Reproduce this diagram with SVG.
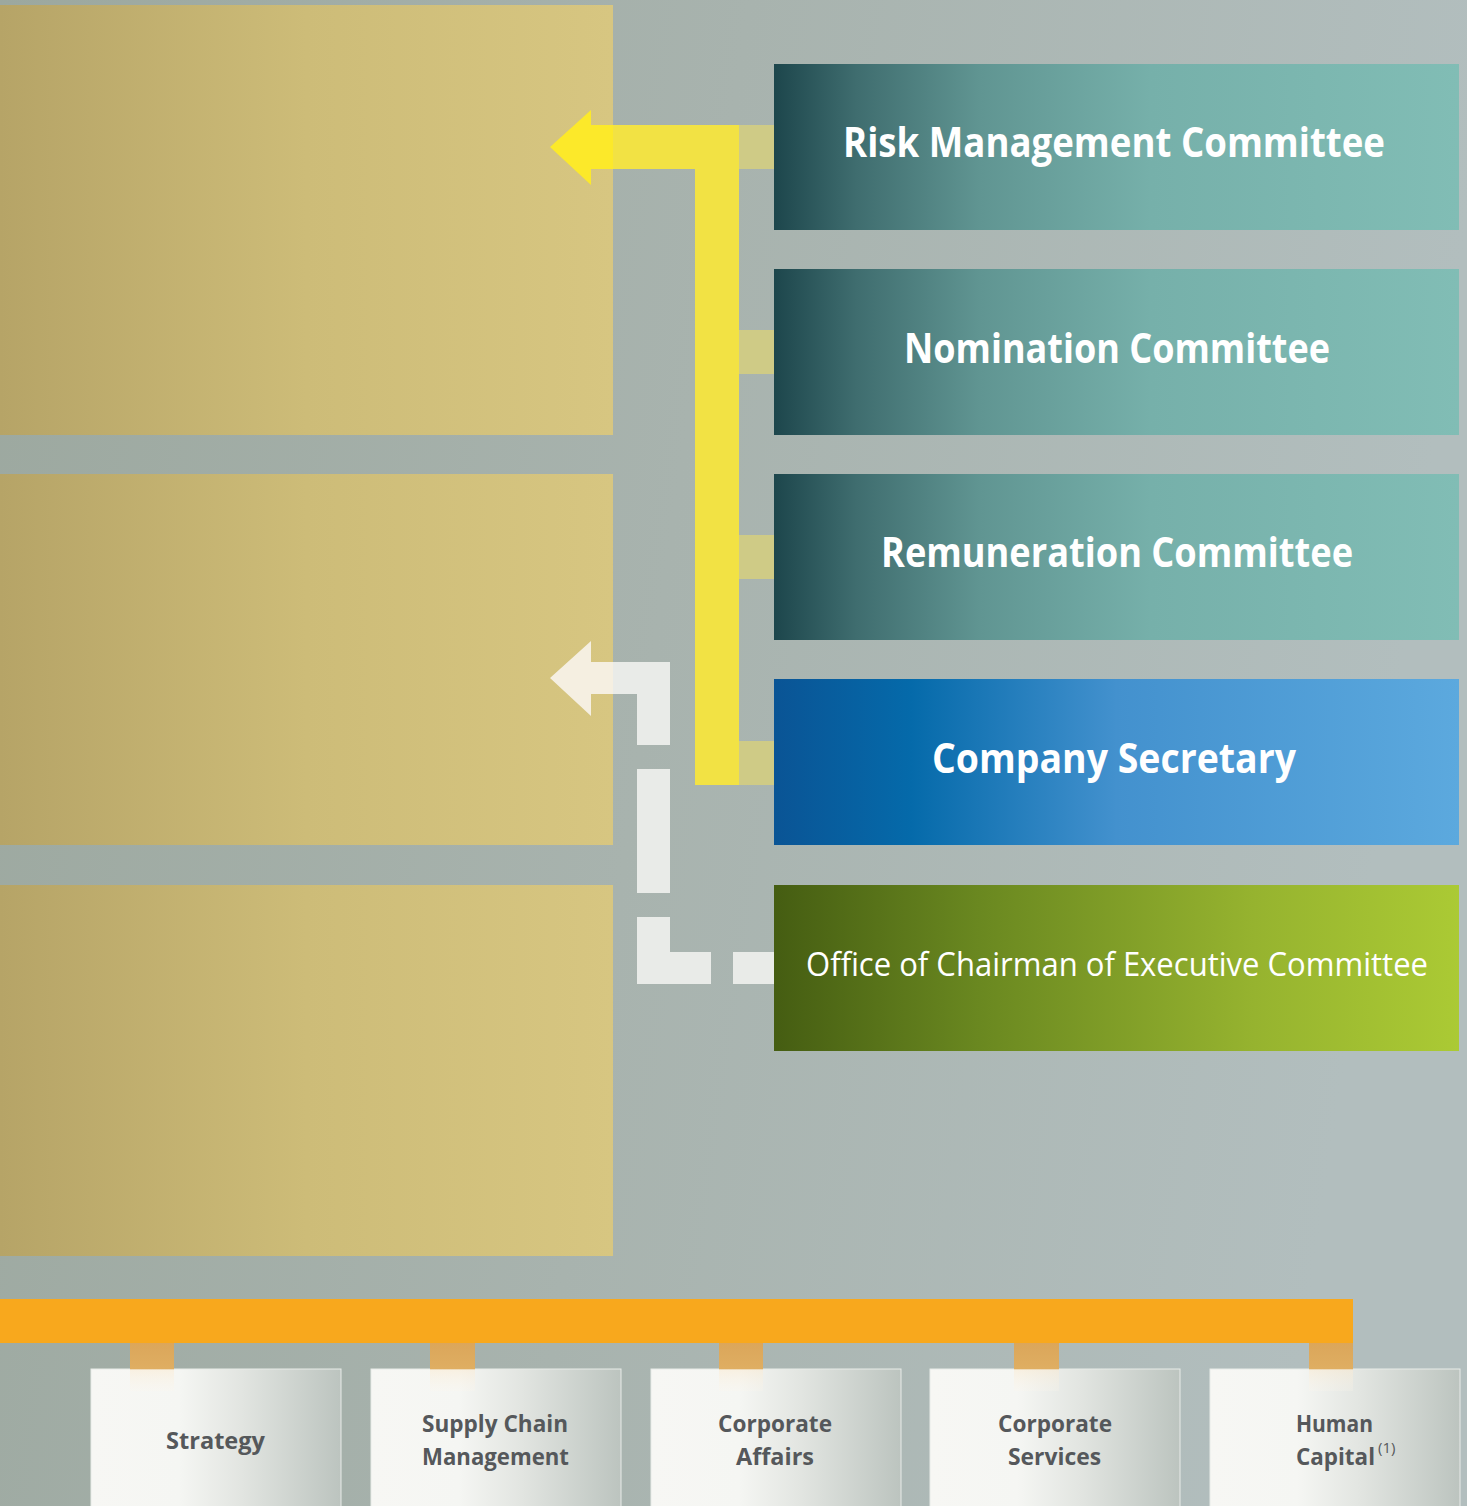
<svg xmlns="http://www.w3.org/2000/svg" width="1467" height="1506" viewBox="0 0 1467 1506">
  <defs>
    <linearGradient id="bg" x1="0" y1="0" x2="1" y2="0.15">
      <stop offset="0" stop-color="#9ca89f"/>
      <stop offset="0.5" stop-color="#a8b3ae"/>
      <stop offset="1" stop-color="#b2bebe"/>
    </linearGradient>
    <linearGradient id="gold" x1="0" y1="0" x2="1" y2="0">
      <stop offset="0" stop-color="#b6a467"/>
      <stop offset="0.5" stop-color="#cdbc78"/>
      <stop offset="1" stop-color="#d7c681"/>
    </linearGradient>
    <linearGradient id="teal" x1="0" y1="0" x2="1" y2="0">
      <stop offset="0" stop-color="#1d464c"/>
      <stop offset="0.12" stop-color="#3f6d6f"/>
      <stop offset="0.3" stop-color="#609592"/>
      <stop offset="0.55" stop-color="#76b0aa"/>
      <stop offset="1" stop-color="#81bdb5"/>
    </linearGradient>
    <linearGradient id="blue" x1="0" y1="0" x2="1" y2="0">
      <stop offset="0" stop-color="#0a5495"/>
      <stop offset="0.2" stop-color="#056aaa"/>
      <stop offset="0.5" stop-color="#4391ce"/>
      <stop offset="1" stop-color="#5ca9de"/>
    </linearGradient>
    <linearGradient id="green" x1="0" y1="0" x2="1" y2="0">
      <stop offset="0" stop-color="#455d12"/>
      <stop offset="0.3" stop-color="#6a8820"/>
      <stop offset="0.7" stop-color="#96b32f"/>
      <stop offset="1" stop-color="#abca34"/>
    </linearGradient>
    <linearGradient id="unit" x1="0" y1="0" x2="1" y2="0">
      <stop offset="0" stop-color="#f7f7f4"/>
      <stop offset="0.35" stop-color="#f5f6f3"/>
      <stop offset="0.6" stop-color="#e2e5e1"/>
      <stop offset="1" stop-color="#bcc4bf"/>
    </linearGradient>
    <linearGradient id="stub" x1="0" y1="0" x2="0" y2="1">
      <stop offset="0" stop-color="#dba65a"/>
      <stop offset="0.54" stop-color="#dfae62"/>
      <stop offset="0.56" stop-color="#fbead0" stop-opacity="0.5"/>
      <stop offset="1" stop-color="#fdf6ea" stop-opacity="0.2"/>
    </linearGradient>
    <style>
      .gold { fill: url(#gold); }
      .cmte { font-family: "Open Sans", "Noto Sans", sans-serif; font-weight: 700; font-size: 41px; fill: #ffffff; }
      .office { font-family: "Open Sans", "Noto Sans", sans-serif; font-weight: 400; font-size: 32px; fill: #ffffff; }
      .unit-box { fill: url(#unit); stroke: #e8ebe8; stroke-width: 1; }
      .unit-text { font-family: "Open Sans", "Noto Sans", sans-serif; font-weight: 700; font-size: 24px; fill: #55585b; }
      .sup { font-family: "Open Sans", "Noto Sans", sans-serif; font-weight: 400; font-size: 15px; fill: #55585b; }
      .tab { fill: #cfcb86; }
      .solid { fill: #f2e244; }
      .dash { fill: #e9ebe8; }
      .stub { fill: url(#stub); }
    </style>
  </defs>

  <!-- backdrop -->
  <rect x="0" y="0" width="1467" height="1506" fill="url(#bg)"/>

  <!-- board panels on the left -->
  <g id="panels">
    <rect class="gold" x="0" y="5" width="613" height="430"/>
    <rect class="gold" x="0" y="474" width="613" height="371"/>
    <rect class="gold" x="0" y="885" width="613" height="371"/>
  </g>

  <!-- business units -->
  <g id="strategy">
    <rect class="unit-box" x="91" y="1369" width="250" height="140"/>
    <text class="unit-text" x="166" y="1449" textLength="99" lengthAdjust="spacingAndGlyphs">Strategy</text>
  </g>
  <g id="supply-chain-management">
    <rect class="unit-box" x="371" y="1369" width="250" height="140"/>
    <text class="unit-text" x="422" y="1432" textLength="146" lengthAdjust="spacingAndGlyphs">Supply Chain</text>
    <text class="unit-text" x="422" y="1465" textLength="147" lengthAdjust="spacingAndGlyphs">Management</text>
  </g>
  <g id="corporate-affairs">
    <rect class="unit-box" x="651" y="1369" width="250" height="140"/>
    <text class="unit-text" x="718" y="1432" textLength="114" lengthAdjust="spacingAndGlyphs">Corporate</text>
    <text class="unit-text" x="736" y="1465" textLength="78" lengthAdjust="spacingAndGlyphs">Affairs</text>
  </g>
  <g id="corporate-services">
    <rect class="unit-box" x="930" y="1369" width="250" height="140"/>
    <text class="unit-text" x="998" y="1432" textLength="114" lengthAdjust="spacingAndGlyphs">Corporate</text>
    <text class="unit-text" x="1008" y="1465" textLength="93" lengthAdjust="spacingAndGlyphs">Services</text>
  </g>
  <g id="human-capital">
    <rect class="unit-box" x="1210" y="1369" width="250" height="140"/>
    <text class="unit-text" x="1296" y="1432" textLength="77" lengthAdjust="spacingAndGlyphs">Human</text>
    <text class="unit-text" x="1296" y="1465" textLength="79" lengthAdjust="spacingAndGlyphs">Capital</text>
    <text class="sup" x="1378" y="1453">(1)</text>
  </g>

  <!-- connectors -->
  <g id="connectors">
    <!-- tabs joining committees to the reporting line -->
    <rect class="tab" x="739" y="125" width="35" height="44"/>
    <rect class="tab" x="739" y="330" width="35" height="44"/>
    <rect class="tab" x="739" y="535" width="35" height="44"/>
    <rect class="tab" x="739" y="741" width="35" height="44"/>
    <!-- solid reporting line -->
    <rect class="solid" x="695" y="147" width="44" height="638"/>
    <rect class="solid" x="613" y="125" width="126" height="44"/>
    <polygon fill="#fce92a" points="550,147 591,110 591,125 613,125 613,169 591,169 591,185"/>
    <!-- dashed reporting line -->
    <rect class="dash" x="733" y="952" width="41" height="32"/>
    <path class="dash" d="M637,917 H670 V952 H711 V984 H637 Z"/>
    <rect class="dash" x="637" y="769" width="33" height="124"/>
    <path class="dash" d="M613,662 H670 V745 H637 V694 H613 Z"/>
    <polygon fill="#f5efe1" points="550,678 591,641 591,662 613,662 613,694 591,694 591,716"/>
    <!-- executive bar and its drops -->
    <rect x="0" y="1299" width="1353" height="44" fill="#f8a81d"/>
    <rect class="stub" x="130" y="1343" width="44" height="48"/>
    <rect class="stub" x="430" y="1343" width="45" height="48"/>
    <rect class="stub" x="719" y="1343" width="44" height="48"/>
    <rect class="stub" x="1014" y="1343" width="45" height="48"/>
    <rect class="stub" x="1309" y="1343" width="44" height="48"/>
  </g>

  <!-- committees -->
  <g id="risk-management-committee">
    <rect x="774" y="64" width="685" height="166" fill="url(#teal)"/>
    <text class="cmte" x="843" y="157" textLength="542" lengthAdjust="spacingAndGlyphs">Risk Management Committee</text>
  </g>
  <g id="nomination-committee">
    <rect x="774" y="269" width="685" height="166" fill="url(#teal)"/>
    <text class="cmte" x="904" y="363" textLength="426" lengthAdjust="spacingAndGlyphs">Nomination Committee</text>
  </g>
  <g id="remuneration-committee">
    <rect x="774" y="474" width="685" height="166" fill="url(#teal)"/>
    <text class="cmte" x="881" y="567" textLength="472" lengthAdjust="spacingAndGlyphs">Remuneration Committee</text>
  </g>
  <g id="company-secretary">
    <rect x="774" y="679" width="685" height="166" fill="url(#blue)"/>
    <text class="cmte" x="932" y="773" textLength="364" lengthAdjust="spacingAndGlyphs">Company Secretary</text>
  </g>
  <g id="office-of-chairman">
    <rect x="774" y="885" width="685" height="166" fill="url(#green)"/>
    <text class="office" x="806" y="976" textLength="622" lengthAdjust="spacingAndGlyphs">Office of Chairman of Executive Committee</text>
  </g>
</svg>
